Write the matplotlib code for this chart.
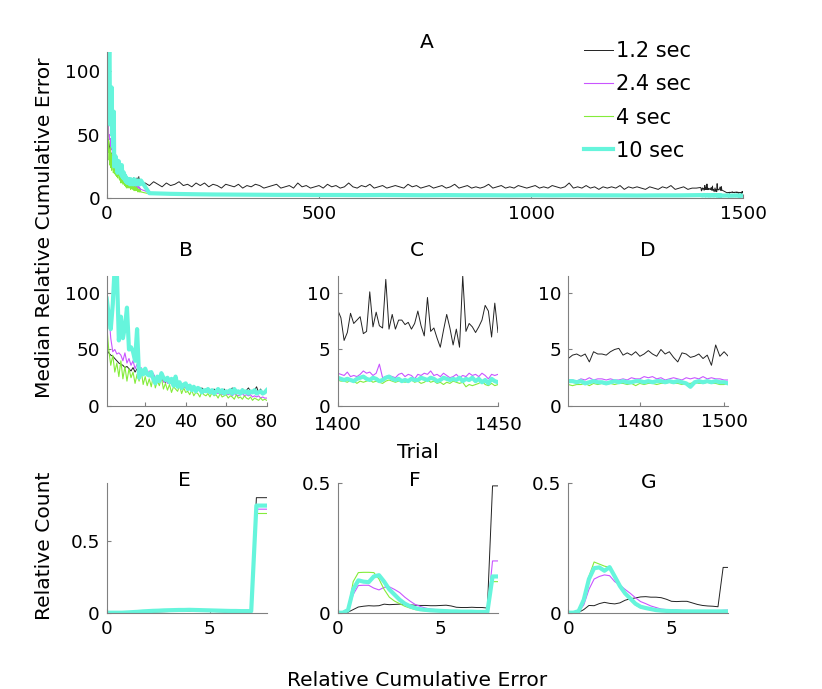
import numpy as np
import matplotlib.pyplot as plt

plt.rcParams['font.family'] = 'DejaVu Sans'
plt.rcParams['font.size'] = 14.5

W, H = 822, 689

labels = ['1.2 sec', '2.4 sec', '4 sec', '10 sec']
colors = ['#222222', '#c955ff', '#84ec3a', '#66f5dc']
widths = [0.7, 0.8, 0.8, 3.0]
axis_grey = '#808080'
tick_size = 13.2
text_size = 14.6

# ---- trial data (median relative cumulative error) ----
early_t = np.arange(1, 81)
early_12 = [50, 47, 45, 44, 42, 40, 38, 37, 36, 34,
            35, 33, 31, 34, 30, 33, 29, 31, 28, 30,
            27, 29, 26, 28, 24, 26, 23, 25, 22, 21,
            23, 20, 22, 19, 21, 18, 20, 17, 19, 16,
            18, 15, 17, 14, 16, 15, 13, 16, 14, 15,
            13, 14, 12, 15, 13, 14, 12, 13, 15, 12,
            14, 13, 16, 12, 14, 11, 13, 15, 12, 14,
            16, 13, 11, 14, 17, 12, 15, 11, 13, 12]
early_24 = [85, 83, 60, 48, 50, 46, 47, 45, 40, 47,
            38, 42, 36, 40, 33, 37, 30, 34, 28, 33,
            27, 31, 25, 29, 24, 27, 22, 30, 21, 25,
            20, 23, 19, 22, 18, 21, 17, 19, 16, 18,
            15, 17, 14, 16, 13, 15, 13, 14, 12, 14,
            12, 13, 11, 13, 12, 11, 12, 10, 12, 11,
            10, 11, 9, 11, 10, 9, 10, 11, 9, 10,
            9, 10, 8, 9, 8, 9, 7, 8, 7, 7]
early_4 = [72, 50, 36, 45, 30, 38, 26, 40, 24, 35,
           22, 33, 25, 30, 20, 28, 22, 32, 19, 26,
           18, 24, 17, 27, 16, 22, 18, 25, 15, 20,
           14, 19, 12, 17, 15, 13, 18, 11, 16, 12,
           13, 10, 14, 9, 12, 11, 8, 13, 10, 9,
           11, 8, 12, 9, 10, 7, 11, 8, 9, 10,
           7, 9, 8, 6, 10, 7, 8, 6, 9, 7,
           6, 8, 5, 7, 6, 5, 7, 5, 6, 5]
early_10 = [95, 80, 68, 90, 125, 120, 58, 79, 60, 70,
            87, 50, 52, 48, 40, 68, 25, 32, 28, 33,
            28, 27, 30, 24, 20, 26, 22, 29, 25, 23,
            25, 21, 24, 18, 26, 17, 21, 16, 19, 20,
            15, 18, 14, 17, 13, 16, 15, 12, 14, 13,
            15, 12, 14, 11, 13, 15, 12, 14, 11, 13,
            12, 14, 11, 15, 12, 13, 11, 14, 12, 13,
            11, 13, 12, 14, 11, 12, 13, 11, 12, 14]

mid_t_black = np.arange(90, 1391, 10)
mid_12 = [12, 10, 13, 11, 9, 12, 10, 11, 13, 10,
          11, 9, 12, 10, 12, 9, 11, 10, 8, 11,
          10, 9, 11, 8, 10, 9, 11, 10, 8, 9,
          10, 11, 8, 9, 10, 8, 12, 9, 10, 8,
          9, 10, 8, 11, 9, 10, 8, 9, 12, 9,
          8, 10, 9, 11, 8, 9, 10, 8, 9, 10,
          9, 8, 11, 9, 10, 8, 9, 10, 8, 9,
          10, 8, 9, 11, 8, 9, 10, 8, 9, 8,
          9, 11, 8, 9, 10, 8, 9, 8, 10, 9,
          8, 9, 10, 8, 9, 8, 10, 9, 8, 9,
          12, 8, 9, 8, 10, 8, 9, 7, 9, 8,
          9, 8, 10, 7, 9, 8, 9, 8, 7, 9,
          8, 7, 9, 8, 10, 7, 8, 9, 7, 8,
          8]
mid_t_col = np.arange(100, 1351, 50)
mid_24 = [4.5, 4.0, 3.8, 3.5, 3.4, 3.2, 3.3, 3.1, 3.0, 3.1,
          2.9, 3.0, 2.9, 2.8, 3.0, 2.8, 2.9, 2.7, 2.8, 2.9,
          2.7, 2.8, 2.7, 2.8, 2.6, 2.7]
mid_4 = [3.5, 3.0, 2.8, 2.6, 2.5, 2.4, 2.4, 2.3, 2.3, 2.2,
         2.3, 2.2, 2.2, 2.1, 2.2, 2.1, 2.1, 2.2, 2.1, 2.0,
         2.1, 2.1, 2.0, 2.1, 2.0, 2.0]
mid_10 = [4.0, 3.5, 3.2, 3.0, 2.9, 2.8, 2.7, 2.7, 2.6, 2.6,
          2.5, 2.6, 2.5, 2.4, 2.5, 2.4, 2.4, 2.3, 2.4, 2.3,
          2.4, 2.3, 2.3, 2.2, 2.3, 2.3]

late_c_t = np.arange(1400, 1451)
late_c_12 = [8.5, 7.8, 5.8, 6.5, 8.2, 7.3, 7.6, 7.9, 6.4, 6.6,
             10.1, 7.0, 8.3, 7.1, 6.9, 11.2, 6.8, 8.1, 6.8, 7.6,
             7.6, 7.2, 7.4, 6.8, 7.3, 8.4, 7.1, 6.2, 9.6, 6.6,
             6.9, 6.0, 5.2, 6.7, 8.1, 6.9, 5.4, 6.8, 5.2, 11.5,
             6.6, 7.3, 7.0, 6.5, 7.0, 7.6, 8.9, 8.4, 6.1, 9.1,
             6.5]
late_c_24 = [2.9, 2.8, 2.7, 3.0, 2.6, 2.7, 2.6, 2.8, 3.1, 2.9,
             3.0, 2.7, 2.9, 3.7, 2.5, 2.6, 2.7, 2.6, 2.5, 2.8,
             2.9, 2.6, 2.8, 2.7, 2.4, 2.8, 2.7, 2.9, 2.8, 3.1,
             2.7, 2.8, 2.6, 2.9, 2.7, 2.5, 2.6, 2.8, 2.5, 2.7,
             2.6, 2.9, 2.7, 2.8, 2.6, 2.9, 2.7, 2.4, 2.8, 2.7,
             2.8]
late_c_4 = [2.3, 2.2, 2.2, 2.1, 2.3, 2.2, 2.0, 2.2, 2.1, 2.2,
            2.3, 2.1, 2.2, 2.1, 2.0, 2.2, 2.3, 2.2, 2.1, 2.2,
            2.2, 2.1, 2.2, 2.3, 2.1, 2.2, 2.0, 2.1, 2.3, 2.1,
            2.2, 2.0, 2.1, 1.9, 2.1, 2.0, 2.2, 2.1, 2.0, 2.1,
            1.7, 1.9, 1.8, 1.9, 2.0, 2.2, 1.9, 1.8, 2.0, 1.8,
            1.9]
late_c_10 = [2.5, 2.4, 2.3, 2.4, 2.3, 2.2, 2.4, 2.5, 2.6, 2.4,
             2.3, 2.5, 2.4, 2.2, 2.3, 2.5, 2.6, 2.4, 2.3, 2.4,
             2.2, 2.3, 2.2, 2.4, 2.3, 2.3, 2.5, 2.4, 2.3, 2.5,
             2.4, 2.2, 2.3, 2.5, 2.4, 2.3, 2.4, 2.3, 2.5, 2.2,
             2.4, 2.3, 2.5, 2.2, 2.4, 2.1, 2.3, 2.0, 2.4, 2.2,
             2.1]

late_d_t = np.arange(1463, 1502)
late_d_12 = [4.2, 4.5, 4.6, 4.4, 4.6, 3.9, 4.8, 4.6, 4.6, 4.5,
             4.8, 5.0, 5.1, 4.5, 4.7, 4.5, 4.8, 4.4, 4.6, 4.9,
             4.6, 4.4, 5.0, 4.6, 4.8, 4.3, 3.9, 4.7, 4.6, 4.3,
             4.4, 4.6, 4.2, 4.5, 3.6, 5.4, 4.4, 4.8, 4.4]
late_d_24 = [2.3, 2.3, 2.2, 2.4, 2.3, 2.5, 2.3, 2.4, 2.4, 2.3,
             2.4, 2.3, 2.3, 2.4, 2.3, 2.5, 2.4, 2.4, 2.6, 2.5,
             2.6, 2.4, 2.5, 2.3, 2.4, 2.5, 2.4, 2.3, 2.5, 2.4,
             2.5, 2.4, 2.6, 2.4, 2.5, 2.4, 2.4, 2.3, 2.3]
late_d_4 = [1.9, 1.8, 1.9, 1.9, 2.0, 1.8, 2.0, 1.9, 2.0, 1.9,
            2.0, 1.9, 2.0, 2.0, 1.9, 2.0, 1.8, 2.0, 1.9, 2.0,
            2.0, 1.9, 2.0, 2.0, 2.1, 2.0, 2.0, 1.9, 2.0, 2.0,
            2.1, 2.0, 2.0, 2.1, 2.0, 2.0, 1.9, 1.9, 2.0]
late_d_10 = [2.2, 2.2, 2.1, 2.2, 2.0, 2.1, 2.2, 2.1, 2.1, 2.0,
             2.1, 2.2, 2.1, 2.2, 2.1, 2.1, 2.2, 2.2, 2.1, 2.2,
             2.1, 2.2, 2.2, 2.1, 2.2, 2.1, 2.2, 2.1, 2.0, 1.7,
             2.1, 2.2, 2.1, 2.2, 2.1, 2.2, 2.1, 2.1, 2.0]

# ---- histograms (relative count vs relative cumulative error) ----
hist_x = np.arange(0, 8, 0.25)
e_12 = [0, 0, 0, 0, 0, 0.001, 0.002, 0.003, 0.004, 0.005,
        0.006, 0.007, 0.008, 0.009, 0.01, 0.011, 0.012, 0.012, 0.011, 0.01,
        0.009, 0.008, 0.007, 0.006, 0.006, 0.005, 0.005, 0.005, 0.005, 0.80,
        0.80, 0.80]
e_24 = [0, 0, 0, 0, 0.001, 0.003, 0.005, 0.007, 0.009, 0.011,
        0.012, 0.013, 0.014, 0.015, 0.016, 0.016, 0.017, 0.016, 0.015, 0.014,
        0.013, 0.012, 0.011, 0.01, 0.009, 0.009, 0.008, 0.008, 0.008, 0.72,
        0.72, 0.72]
e_4 = [0, 0, 0, 0, 0.002, 0.004, 0.007, 0.009, 0.011, 0.013,
       0.015, 0.016, 0.017, 0.018, 0.018, 0.019, 0.019, 0.018, 0.017, 0.016,
       0.015, 0.014, 0.013, 0.012, 0.011, 0.011, 0.01, 0.01, 0.01, 0.69,
       0.69, 0.69]
e_10 = [0, 0, 0, 0, 0.002, 0.004, 0.006, 0.009, 0.011, 0.013,
        0.014, 0.016, 0.017, 0.018, 0.019, 0.019, 0.02, 0.019, 0.018, 0.017,
        0.016, 0.015, 0.014, 0.013, 0.012, 0.012, 0.011, 0.011, 0.011, 0.745,
        0.745, 0.745]

f_12 = [0, 0, 0.002, 0.012, 0.022, 0.025, 0.027, 0.026, 0.027, 0.033,
        0.031, 0.032, 0.033, 0.031, 0.030, 0.029, 0.028, 0.028, 0.027, 0.027,
        0.028, 0.029, 0.026, 0.021, 0.020, 0.020, 0.021, 0.020, 0.020, 0.018,
        0.49, 0.49]
f_24 = [0, 0, 0.008, 0.07, 0.105, 0.106, 0.106, 0.095, 0.088, 0.098,
        0.1, 0.09, 0.078, 0.06, 0.045, 0.032, 0.024, 0.018, 0.014, 0.012,
        0.01, 0.009, 0.008, 0.007, 0.006, 0.006, 0.005, 0.005, 0.004, 0.004,
        0.2, 0.2]
f_4 = [0, 0, 0.01, 0.12, 0.155, 0.156, 0.156, 0.155, 0.13, 0.09,
       0.06, 0.045, 0.035, 0.025, 0.018, 0.012, 0.009, 0.007, 0.006, 0.005,
       0.004, 0.004, 0.004, 0.003, 0.003, 0.003, 0.003, 0.003, 0.003, 0.003,
       0.12, 0.12]
f_10 = [0, 0, 0.01, 0.09, 0.125, 0.12, 0.118, 0.14, 0.145, 0.12,
        0.09, 0.07, 0.05, 0.035, 0.025, 0.018, 0.013, 0.011, 0.009, 0.008,
        0.007, 0.006, 0.005, 0.005, 0.004, 0.004, 0.004, 0.003, 0.003, 0.003,
        0.14, 0.14]

g_12 = [0, 0, 0.001, 0.012, 0.028, 0.027, 0.035, 0.04, 0.036, 0.034,
        0.038, 0.048, 0.054, 0.057, 0.061, 0.062, 0.06, 0.06, 0.058, 0.052,
        0.044, 0.043, 0.044, 0.044, 0.038, 0.032, 0.028, 0.026, 0.025, 0.023,
        0.175, 0.175]
g_24 = [0, 0, 0.004, 0.03, 0.09, 0.13, 0.14, 0.146, 0.143, 0.12,
        0.107, 0.09, 0.075, 0.058, 0.043, 0.035, 0.026, 0.02, 0.014, 0.012,
        0.01, 0.01, 0.009, 0.008, 0.007, 0.007, 0.006, 0.006, 0.006, 0.007,
        0.009, 0.01]
g_4 = [0, 0, 0.008, 0.06, 0.14, 0.196, 0.188, 0.18, 0.175, 0.14,
       0.1, 0.07, 0.049, 0.03, 0.019, 0.016, 0.012, 0.008, 0.006, 0.005,
       0.004, 0.004, 0.004, 0.003, 0.003, 0.003, 0.003, 0.003, 0.003, 0.003,
       0.003, 0.003]
g_10 = [0, 0, 0.006, 0.05, 0.13, 0.172, 0.175, 0.162, 0.176, 0.14,
        0.103, 0.075, 0.055, 0.035, 0.023, 0.018, 0.014, 0.01, 0.008, 0.007,
        0.006, 0.006, 0.005, 0.005, 0.005, 0.005, 0.005, 0.005, 0.005, 0.005,
        0.005, 0.005]

early = [early_12, early_24, early_4, early_10]
mids = [(mid_t_black, mid_12), (mid_t_col, mid_24), (mid_t_col, mid_4), (mid_t_col, mid_10)]
late_c = [late_c_12, late_c_24, late_c_4, late_c_10]
late_d = [late_d_12, late_d_24, late_d_4, late_d_10]
hists = [[e_12, e_24, e_4, e_10], [f_12, f_24, f_4, f_10], [g_12, g_24, g_4, g_10]]


def px_axes(left, top, right, bottom):
    return fig.add_axes([left / W, 1 - bottom / H, (right - left) / W, (bottom - top) / H])


def style(ax, xpad=5):
    for s in ['top', 'right']:
        ax.spines[s].set_visible(False)
    for s in ['left', 'bottom']:
        ax.spines[s].set_color(axis_grey)
        ax.spines[s].set_linewidth(0.8)
    ax.tick_params(direction='in', length=3, width=0.8, color=axis_grey, labelsize=tick_size)
    ax.tick_params(axis='x', pad=xpad)
    ax.tick_params(axis='y', pad=5)


def fig_text(x, y, s, **kw):
    fig.text(x / W, 1 - y / H, s, ha='center', va='center', fontsize=text_size, **kw)


fig = plt.figure(figsize=(W / 100, H / 100), dpi=100)

# (A) whole session
axA = px_axes(107, 51.7, 743, 198.3)
for i in range(4):
    t = np.concatenate([early_t, mids[i][0], late_c_t, late_d_t])
    v = np.concatenate([early[i], mids[i][1], late_c[i], late_d[i]])
    axA.plot(t, v, color=colors[i], lw=widths[i], label=labels[i])
axA.set_xlim(0, 1500)
axA.set_ylim(0, 115)
axA.set_xticks([0, 500, 1000, 1500])
axA.set_yticks([0, 50, 100])
style(axA)
axA.legend(loc='upper left', bbox_to_anchor=(584 / W, 1 - 41.3 / H),
           bbox_transform=fig.transFigure, frameon=False, fontsize=15,
           handlelength=1.38, handletextpad=0.15, labelspacing=0.63,
           borderpad=0, borderaxespad=0)

# (B) first trials
axB = px_axes(106.7, 276, 266.7, 406)
for i in range(4):
    axB.plot(early_t, early[i], color=colors[i], lw=widths[i])
axB.set_xlim(1, 80)
axB.set_ylim(0, 115)
axB.set_xticks([20, 40, 60, 80])
axB.set_yticks([0, 50, 100])
style(axB)

# (C) trials 1400-1450
axC = px_axes(337.7, 276, 498, 406)
for i in range(4):
    axC.plot(late_c_t, late_c[i], color=colors[i], lw=widths[i])
axC.set_xlim(1400, 1450)
axC.set_ylim(0, 11.5)
axC.set_xticks([1400, 1450])
axC.set_yticks([0, 5, 10])
style(axC, xpad=7.5)

# (D) last trials
axD = px_axes(568.3, 276, 728.3, 406)
for i in range(4):
    axD.plot(late_d_t, late_d[i], color=colors[i], lw=widths[i])
axD.set_xlim(1463, 1501)
axD.set_ylim(0, 11.5)
axD.set_xticks([1480, 1500])
axD.set_yticks([0, 5, 10])
style(axD)

# (E, F, G) histograms
hist_lefts = [106.7, 337.7, 568.3]
hist_tops = [0.9, 0.5, 0.5]
for k in range(3):
    ax = px_axes(hist_lefts[k], 483.3, hist_lefts[k] + 160, 612.7)
    for i in range(4):
        ax.plot(hist_x, hists[k][i], color=colors[i], lw=widths[i])
    ax.set_xlim(0, 7.75)
    ax.set_ylim(0, hist_tops[k])
    ax.set_xticks([0, 5])
    ax.set_yticks([0, 0.5])
    ax.set_yticklabels(['0', '0.5'])
    style(ax)

# panel titles and shared labels
fig_text(427, 43, 'A')
fig_text(186, 251, 'B')
fig_text(417, 251, 'C')
fig_text(648, 251, 'D')
fig_text(184, 481, 'E')
fig_text(415, 481, 'F')
fig_text(649, 482, 'G')
fig_text(45, 228, 'Median Relative Cumulative Error', rotation=90)
fig_text(417.5, 452, 'Trial')
fig_text(45, 546, 'Relative Count', rotation=90)
fig_text(417.5, 680, 'Relative Cumulative Error')

plt.savefig('out.png', dpi=100)
